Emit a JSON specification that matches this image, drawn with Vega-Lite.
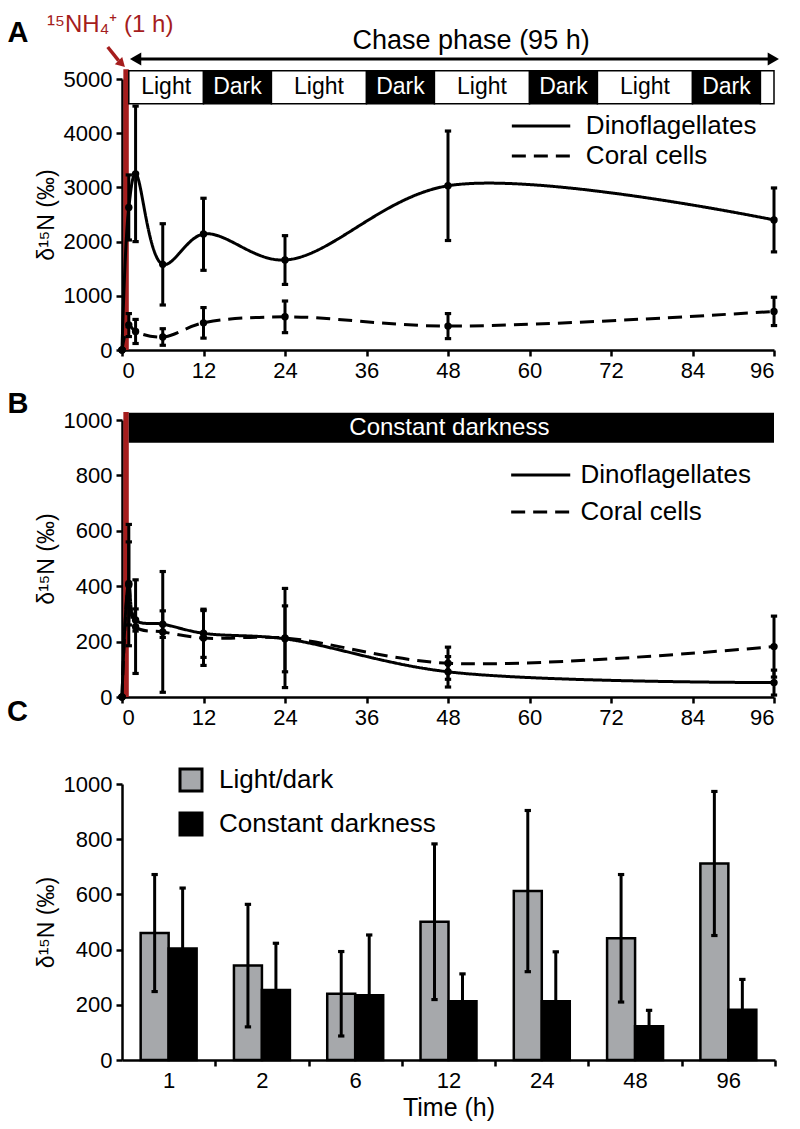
{
  "$schema": "https://vega.github.io/schema/vega-lite/v6.json",
  "background": "white",
  "padding": {"left": 7, "top": 12, "right": 5, "bottom": 5},
  "config": {
    "font": "Liberation Sans",
    "view": {"stroke": null},
    "axis": {
      "domainColor": "black", "domainWidth": 2.5, "tickColor": "black", "tickWidth": 2.5, "tickSize": 6,
      "labelFont": "Liberation Sans", "labelFontSize": 22, "labelColor": "black", "labelPadding": 4,
      "titleFont": "Liberation Sans", "titleFontSize": 23, "titleFontWeight": "normal", "titleColor": "black", "grid": false
    },
    "legend": {"labelFont": "Liberation Sans", "labelFontSize": 26, "labelColor": "black", "labelLimit": 0, "padding": 0, "title": null},
    "title": {"fontSize": 29, "fontWeight": "bold", "anchor": "start", "frame": "group", "dx": -115, "color": "black", "baseline": "alphabetic"}
  },
  "datasets": {
    "lines_a": [
      {"t": 0, "series": "Dinoflagellates", "v": 0, "lo": 0, "hi": 0},
      {"t": 1, "series": "Dinoflagellates", "v": 2630, "lo": 2030, "hi": 3230},
      {"t": 2, "series": "Dinoflagellates", "v": 3250, "lo": 2000, "hi": 4500},
      {"t": 6, "series": "Dinoflagellates", "v": 1580, "lo": 830, "hi": 2330},
      {"t": 12, "series": "Dinoflagellates", "v": 2140, "lo": 1470, "hi": 2800},
      {"t": 24, "series": "Dinoflagellates", "v": 1660, "lo": 1210, "hi": 2110},
      {"t": 48, "series": "Dinoflagellates", "v": 3030, "lo": 2020, "hi": 4040},
      {"t": 96, "series": "Dinoflagellates", "v": 2400, "lo": 1810, "hi": 2990},
      {"t": 0, "series": "Coral cells", "v": 0, "lo": 0, "hi": 0},
      {"t": 1, "series": "Coral cells", "v": 460, "lo": 248, "hi": 672},
      {"t": 2, "series": "Coral cells", "v": 342, "lo": 120, "hi": 564},
      {"t": 6, "series": "Coral cells", "v": 240, "lo": 87, "hi": 393},
      {"t": 12, "series": "Coral cells", "v": 501, "lo": 219, "hi": 783},
      {"t": 24, "series": "Coral cells", "v": 612, "lo": 320, "hi": 904},
      {"t": 48, "series": "Coral cells", "v": 441, "lo": 210, "hi": 672},
      {"t": 96, "series": "Coral cells", "v": 712, "lo": 451, "hi": 973}
    ],
    "lines_b": [
      {"t": 0, "series": "Dinoflagellates", "v": 0, "lo": 0, "hi": 0},
      {"t": 1, "series": "Dinoflagellates", "v": 410, "lo": 260, "hi": 560},
      {"t": 2, "series": "Dinoflagellates", "v": 278, "lo": 238, "hi": 318},
      {"t": 6, "series": "Dinoflagellates", "v": 263, "lo": 215, "hi": 311},
      {"t": 12, "series": "Dinoflagellates", "v": 230, "lo": 143, "hi": 317},
      {"t": 24, "series": "Dinoflagellates", "v": 210, "lo": 91, "hi": 329},
      {"t": 48, "series": "Dinoflagellates", "v": 91, "lo": 36, "hi": 146},
      {"t": 96, "series": "Dinoflagellates", "v": 52, "lo": 7, "hi": 97},
      {"t": 0, "series": "Coral cells", "v": 0, "lo": 0, "hi": 0},
      {"t": 1, "series": "Coral cells", "v": 404, "lo": 185, "hi": 623},
      {"t": 2, "series": "Coral cells", "v": 254, "lo": 85, "hi": 423},
      {"t": 6, "series": "Coral cells", "v": 235, "lo": 17, "hi": 453},
      {"t": 12, "series": "Coral cells", "v": 213, "lo": 114, "hi": 312},
      {"t": 24, "series": "Coral cells", "v": 213, "lo": 34, "hi": 392},
      {"t": 48, "series": "Coral cells", "v": 122, "lo": 64, "hi": 180},
      {"t": 96, "series": "Coral cells", "v": 182, "lo": 72, "hi": 292}
    ],
    "phases": [
      {"start": 1, "end": 12, "mid": 6.5, "phase": "Light"},
      {"start": 12, "end": 22, "mid": 17, "phase": "Dark"},
      {"start": 22, "end": 36, "mid": 29, "phase": "Light"},
      {"start": 36, "end": 46, "mid": 41, "phase": "Dark"},
      {"start": 46, "end": 60, "mid": 53, "phase": "Light"},
      {"start": 60, "end": 70, "mid": 65, "phase": "Dark"},
      {"start": 70, "end": 84, "mid": 77, "phase": "Light"},
      {"start": 84, "end": 94, "mid": 89, "phase": "Dark"},
      {"start": 94, "end": 96, "mid": 95, "phase": ""}
    ],
    "bars": [
      {"time": 1, "cond": "Light/dark", "v": 460, "lo": 248, "hi": 672},
      {"time": 1, "cond": "Constant darkness", "v": 404, "lo": 185, "hi": 623},
      {"time": 2, "cond": "Light/dark", "v": 342, "lo": 120, "hi": 564},
      {"time": 2, "cond": "Constant darkness", "v": 254, "lo": 85, "hi": 423},
      {"time": 6, "cond": "Light/dark", "v": 240, "lo": 87, "hi": 393},
      {"time": 6, "cond": "Constant darkness", "v": 235, "lo": 17, "hi": 453},
      {"time": 12, "cond": "Light/dark", "v": 501, "lo": 219, "hi": 783},
      {"time": 12, "cond": "Constant darkness", "v": 213, "lo": 114, "hi": 312},
      {"time": 24, "cond": "Light/dark", "v": 612, "lo": 320, "hi": 904},
      {"time": 24, "cond": "Constant darkness", "v": 213, "lo": 34, "hi": 392},
      {"time": 48, "cond": "Light/dark", "v": 441, "lo": 210, "hi": 672},
      {"time": 48, "cond": "Constant darkness", "v": 122, "lo": 64, "hi": 180},
      {"time": 96, "cond": "Light/dark", "v": 712, "lo": 451, "hi": 973},
      {"time": 96, "cond": "Constant darkness", "v": 182, "lo": 72, "hi": 292}
    ]
  },
  "spacing": -30,
  "resolve": {
    "scale": {"x": "independent", "y": "independent", "strokeDash": "independent", "fill": "independent"},
    "legend": {"fill": "independent"}
  },
  "vconcat": [
    {
      "spacing": 9,
      "resolve": {"scale": {"x": "independent", "y": "independent", "strokeDash": "independent"}},
      "vconcat": [
        {
          "width": 652, "height": 271,
          "layer": [
            {
              "data": {"values": [{}]},
              "mark": {"type": "rect", "color": "#a51d1d"},
              "encoding": {"x": {"datum": 0.2, "type": "quantitative"}, "x2": {"datum": 1.0}, "y": {"datum": 0, "type": "quantitative"}, "y2": {"datum": 5180}}
            },
            {
              "data": {"name": "phases"},
              "mark": {"type": "rect", "stroke": "black", "strokeWidth": 1.5},
              "encoding": {
                "x": {"field": "start", "type": "quantitative"}, "x2": {"field": "end"},
                "y": {"datum": 4545, "type": "quantitative"}, "y2": {"datum": 5150},
                "fill": {"condition": {"test": "datum.phase === 'Dark'", "value": "black"}, "value": "white"}
              }
            },
            {
              "data": {"name": "phases"},
              "mark": {"type": "text", "fontSize": 23, "baseline": "middle", "align": "center"},
              "encoding": {
                "x": {"field": "mid", "type": "quantitative"},
                "y": {"datum": 4845, "type": "quantitative"},
                "text": {"field": "phase"},
                "color": {"condition": {"test": "datum.phase === 'Dark'", "value": "white"}, "value": "black"}
              }
            },
            {
              "data": {"values": [{}]},
              "mark": {"type": "rule", "color": "black", "strokeWidth": 3},
              "encoding": {"x": {"datum": 1.8, "type": "quantitative"}, "x2": {"datum": 95.6}, "y": {"datum": 5370, "type": "quantitative"}}
            },
            {
              "data": {"values": [{}]},
              "mark": {"type": "point", "shape": "triangle-left", "filled": true, "color": "black", "opacity": 1, "size": 170},
              "encoding": {"x": {"datum": 2.0, "type": "quantitative"}, "y": {"datum": 5370, "type": "quantitative"}}
            },
            {
              "data": {"values": [{}]},
              "mark": {"type": "point", "shape": "triangle-right", "filled": true, "color": "black", "opacity": 1, "size": 170},
              "encoding": {"x": {"datum": 95.9, "type": "quantitative"}, "y": {"datum": 5370, "type": "quantitative"}}
            },
            {
              "data": {"values": [{}]},
              "mark": {"type": "text", "fontSize": 27, "align": "center", "baseline": "alphabetic", "color": "black"},
              "encoding": {"x": {"datum": 51.4, "type": "quantitative"}, "y": {"datum": 5554, "type": "quantitative"}, "text": {"value": "Chase phase (95 h)"}}
            },
            {
              "data": {"values": [{}]},
              "mark": {"type": "text", "fontSize": 24, "align": "left", "baseline": "alphabetic", "color": "#a51d1d"},
              "encoding": {"x": {"datum": -11.05, "type": "quantitative"}, "y": {"datum": 5870, "type": "quantitative"}, "text": {"value": "¹⁵NH₄⁺ (1 h)"}}
            },
            {
              "data": {"values": [{}]},
              "mark": {"type": "text", "fontSize": 29, "fontWeight": "bold", "align": "center", "baseline": "alphabetic", "color": "black"},
              "encoding": {"x": {"datum": -15.3, "type": "quantitative"}, "y": {"datum": 5683, "type": "quantitative"}, "text": {"value": "A"}}
            },
            {
              "data": {"values": [{}]},
              "mark": {"type": "rule", "color": "#a51d1d", "strokeWidth": 3.5},
              "encoding": {"x": {"datum": -2.1, "type": "quantitative"}, "x2": {"datum": -0.5}, "y": {"datum": 5590, "type": "quantitative"}, "y2": {"datum": 5340}}
            },
            {
              "data": {"values": [{}]},
              "mark": {"type": "point", "shape": "triangle", "angle": 135, "filled": true, "color": "#a51d1d", "opacity": 1, "size": 110},
              "encoding": {"x": {"datum": -0.2, "type": "quantitative"}, "y": {"datum": 5300, "type": "quantitative"}}
            },
            {
              "data": {"values": [{"series": "Dinoflagellates", "key": 4133}, {"series": "Coral cells", "key": 3579}]},
              "mark": {"type": "rule", "color": "black", "strokeWidth": 3},
              "encoding": {
                "x": {"datum": 57.4, "type": "quantitative"}, "x2": {"datum": 66.0},
                "y": {"field": "key", "type": "quantitative"},
                "strokeDash": {"field": "series", "type": "nominal", "legend": null}
              }
            },
            {
              "data": {"values": [{"series": "Dinoflagellates", "key": 4133}, {"series": "Coral cells", "key": 3579}]},
              "mark": {"type": "text", "fontSize": 26, "align": "left", "baseline": "middle", "color": "black"},
              "encoding": {
                "x": {"datum": 68.3, "type": "quantitative"},
                "y": {"field": "key", "type": "quantitative"},
                "text": {"field": "series"}
              }
            },
            {
              "data": {"name": "lines_a"},
              "mark": {"type": "line", "interpolate": "catmull-rom", "strokeWidth": 3, "color": "black"},
              "encoding": {
                "x": {"field": "t", "type": "quantitative", "scale": {"domain": [0, 96], "nice": false, "zero": false}, "axis": {"values": [0, 12, 24, 36, 48, 60, 72, 84, 96], "title": null, "format": "d"}},
                "y": {"field": "v", "type": "quantitative", "scale": {"domain": [0, 5000], "nice": false}, "axis": {"values": [0, 1000, 2000, 3000, 4000, 5000], "format": "d", "title": "δ¹⁵N (‰)", "titlePadding": 5}},
                "strokeDash": {"field": "series", "type": "nominal", "scale": {"domain": ["Dinoflagellates", "Coral cells"], "range": [[1, 0], [14, 8]]}, "legend": null}
              }
            },
            {
              "data": {"name": "lines_a"},
              "mark": {"type": "rule", "strokeWidth": 3, "color": "black"},
              "encoding": {"x": {"field": "t", "type": "quantitative"}, "y": {"field": "lo", "type": "quantitative"}, "y2": {"field": "hi"}}
            },
            {
              "data": {"name": "lines_a"},
              "mark": {"type": "point", "shape": "M-1,-0.5H1V0.5H-1Z", "filled": true, "color": "black", "opacity": 1, "size": 40},
              "encoding": {"x": {"field": "t", "type": "quantitative"}, "y": {"field": "hi", "type": "quantitative"}}
            },
            {
              "data": {"name": "lines_a"},
              "mark": {"type": "point", "shape": "M-1,-0.5H1V0.5H-1Z", "filled": true, "color": "black", "opacity": 1, "size": 40},
              "encoding": {"x": {"field": "t", "type": "quantitative"}, "y": {"field": "lo", "type": "quantitative"}}
            },
            {
              "data": {"name": "lines_a"},
              "mark": {"type": "point", "filled": true, "color": "black", "opacity": 1, "size": 55},
              "encoding": {"x": {"field": "t", "type": "quantitative"}, "y": {"field": "v", "type": "quantitative"}}
            }
          ]
        },
        {
          "width": 652, "height": 277,
          "layer": [
            {
              "data": {"values": [{}]},
              "mark": {"type": "rect", "color": "#a51d1d"},
              "encoding": {"x": {"datum": 0.2, "type": "quantitative"}, "x2": {"datum": 1.0}, "y": {"datum": 0, "type": "quantitative"}, "y2": {"datum": 1029}}
            },
            {
              "data": {"values": [{}]},
              "mark": {"type": "rect", "color": "black"},
              "encoding": {"x": {"datum": 1.0, "type": "quantitative"}, "x2": {"datum": 96}, "y": {"datum": 918, "type": "quantitative"}, "y2": {"datum": 1026}}
            },
            {
              "data": {"values": [{}]},
              "mark": {"type": "text", "fontSize": 24, "align": "center", "baseline": "middle", "color": "white"},
              "encoding": {"x": {"datum": 48.2, "type": "quantitative"}, "y": {"datum": 972, "type": "quantitative"}, "text": {"value": "Constant darkness"}}
            },
            {
              "data": {"values": [{}]},
              "mark": {"type": "text", "fontSize": 29, "fontWeight": "bold", "align": "center", "baseline": "alphabetic", "color": "black"},
              "encoding": {"x": {"datum": -15.3, "type": "quantitative"}, "y": {"datum": 1025, "type": "quantitative"}, "text": {"value": "B"}}
            },
            {
              "data": {"values": [{"series": "Dinoflagellates", "key": 801}, {"series": "Coral cells", "key": 668}]},
              "mark": {"type": "rule", "color": "black", "strokeWidth": 3},
              "encoding": {
                "x": {"datum": 57.3, "type": "quantitative"}, "x2": {"datum": 66.0},
                "y": {"field": "key", "type": "quantitative"},
                "strokeDash": {"field": "series", "type": "nominal", "legend": null}
              }
            },
            {
              "data": {"values": [{"series": "Dinoflagellates", "key": 801}, {"series": "Coral cells", "key": 668}]},
              "mark": {"type": "text", "fontSize": 26, "align": "left", "baseline": "middle", "color": "black"},
              "encoding": {
                "x": {"datum": 67.5, "type": "quantitative"},
                "y": {"field": "key", "type": "quantitative"},
                "text": {"field": "series"}
              }
            },
            {
              "data": {"name": "lines_b"},
              "mark": {"type": "line", "interpolate": "catmull-rom", "strokeWidth": 3, "color": "black"},
              "encoding": {
                "x": {"field": "t", "type": "quantitative", "scale": {"domain": [0, 96], "nice": false, "zero": false}, "axis": {"values": [0, 12, 24, 36, 48, 60, 72, 84, 96], "title": null, "format": "d"}},
                "y": {"field": "v", "type": "quantitative", "scale": {"domain": [0, 1000], "nice": false}, "axis": {"values": [0, 200, 400, 600, 800, 1000], "format": "d", "title": "δ¹⁵N (‰)", "titlePadding": 5}},
                "strokeDash": {"field": "series", "type": "nominal", "scale": {"domain": ["Dinoflagellates", "Coral cells"], "range": [[1, 0], [14, 8]]}, "legend": null}
              }
            },
            {
              "data": {"name": "lines_b"},
              "mark": {"type": "rule", "strokeWidth": 3, "color": "black"},
              "encoding": {"x": {"field": "t", "type": "quantitative"}, "y": {"field": "lo", "type": "quantitative"}, "y2": {"field": "hi"}}
            },
            {
              "data": {"name": "lines_b"},
              "mark": {"type": "point", "shape": "M-1,-0.5H1V0.5H-1Z", "filled": true, "color": "black", "opacity": 1, "size": 40},
              "encoding": {"x": {"field": "t", "type": "quantitative"}, "y": {"field": "hi", "type": "quantitative"}}
            },
            {
              "data": {"name": "lines_b"},
              "mark": {"type": "point", "shape": "M-1,-0.5H1V0.5H-1Z", "filled": true, "color": "black", "opacity": 1, "size": 40},
              "encoding": {"x": {"field": "t", "type": "quantitative"}, "y": {"field": "lo", "type": "quantitative"}}
            },
            {
              "data": {"name": "lines_b"},
              "mark": {"type": "point", "filled": true, "color": "black", "opacity": 1, "size": 55},
              "encoding": {"x": {"field": "t", "type": "quantitative"}, "y": {"field": "v", "type": "quantitative"}}
            }
          ]
        }
      ]
    },
    {
      "width": 653, "height": 276,
      "title": {"text": "C", "offset": 40},
      "data": {"name": "bars"},
      "layer": [
        {
          "mark": {"type": "bar", "stroke": "black", "strokeWidth": 2.5},
          "encoding": {
            "x": {"field": "time", "type": "ordinal", "scale": {"paddingInner": 0.4, "paddingOuter": 0.2},
              "axis": {"title": "Time (h)", "titleFontSize": 25, "titlePadding": 4, "labelAngle": 0, "tickOffset": 46.65, "labelOffset": -46.65}},
            "xOffset": {"field": "cond", "type": "nominal", "sort": ["Light/dark", "Constant darkness"], "scale": {"paddingInner": 0, "paddingOuter": 0}},
            "y": {"field": "v", "type": "quantitative", "scale": {"domain": [0, 1000], "nice": false}, "axis": {"values": [0, 200, 400, 600, 800, 1000], "format": "d", "title": "δ¹⁵N (‰)", "titlePadding": 5}},
            "fill": {"field": "cond", "type": "nominal", "sort": ["Light/dark", "Constant darkness"], "scale": {"domain": ["Light/dark", "Constant darkness"], "range": ["#a6a8ab", "black"]},
              "legend": {"orient": "none", "legendX": 56, "legendY": -17, "symbolType": "square", "symbolSize": 484, "symbolStrokeColor": "black", "symbolStrokeWidth": 3, "labelOffset": 15, "rowPadding": 10}}
          }
        },
        {
          "mark": {"type": "rule", "strokeWidth": 3, "color": "black"},
          "encoding": {
            "x": {"field": "time", "type": "ordinal"},
            "xOffset": {"field": "cond", "type": "nominal", "sort": ["Light/dark", "Constant darkness"]},
            "y": {"field": "lo", "type": "quantitative"}, "y2": {"field": "hi"}
          }
        },
        {
          "mark": {"type": "point", "shape": "M-1,-0.5H1V0.5H-1Z", "filled": true, "color": "black", "opacity": 1, "size": 40},
          "encoding": {
            "x": {"field": "time", "type": "ordinal"},
            "xOffset": {"field": "cond", "type": "nominal", "sort": ["Light/dark", "Constant darkness"]},
            "y": {"field": "hi", "type": "quantitative"}
          }
        },
        {
          "mark": {"type": "point", "shape": "M-1,-0.5H1V0.5H-1Z", "filled": true, "color": "black", "opacity": 1, "size": 40},
          "encoding": {
            "x": {"field": "time", "type": "ordinal"},
            "xOffset": {"field": "cond", "type": "nominal", "sort": ["Light/dark", "Constant darkness"]},
            "y": {"field": "lo", "type": "quantitative"}
          }
        }
      ]
    }
  ]
}
